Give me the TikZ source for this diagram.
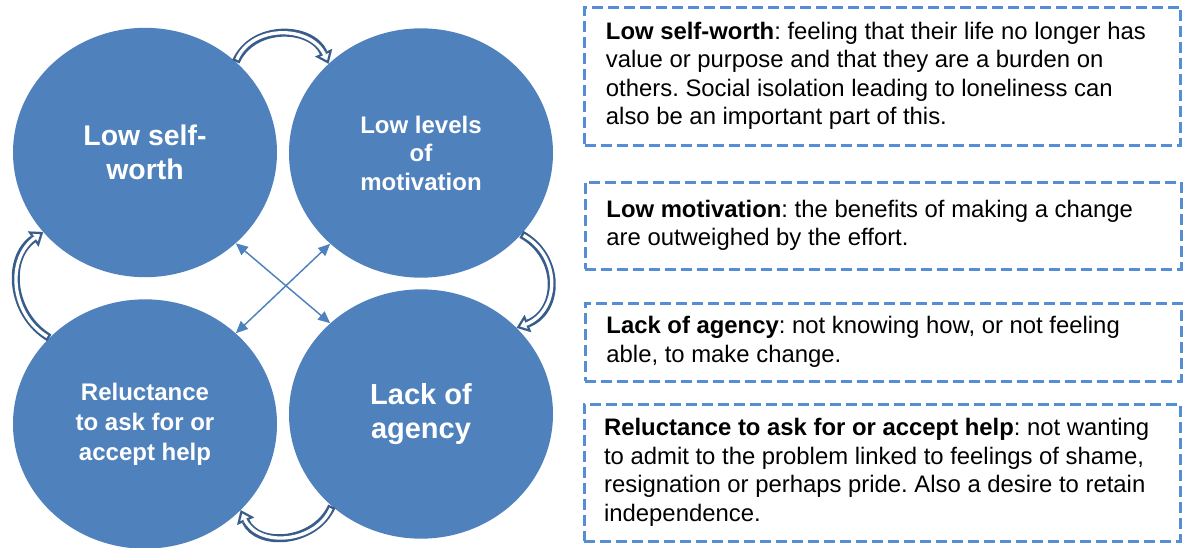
\documentclass[tikz,border=0pt]{standalone}
\usepackage{fontspec}
\setmainfont{Liberation Sans}
\usetikzlibrary{shapes.geometric,arrows.meta}
\frenchspacing

\definecolor{circleblue}{RGB}{79,129,189}
\definecolor{loopedge}{RGB}{56,93,138}
\definecolor{boxdash}{RGB}{85,142,213}

\tikzset{
	issue/.style={ellipse, fill=circleblue, text=white, inner sep=0pt, minimum width=198pt, minimum height=187pt, align=center},
	loopbody/.style={draw=loopedge, line width=6pt, -{Triangle[length=9pt,width=14pt,line width=.01pt]}},
	loopcore/.style={draw=white, line width=2.5pt, shorten >=2.85pt, shorten <=1.75pt, -{Triangle[length=4.4pt,width=6.85pt,line width=.01pt]}},
	crossarrow/.style={draw=circleblue, line width=1.1pt, {Triangle[length=9pt,width=8pt]}-{Triangle[length=9pt,width=8pt]}},
	notebox/.style={draw=boxdash, line width=2.25pt, dash pattern=on 8.25pt off 3.75pt, minimum width=447pt, inner sep=0pt},
	notetext/.style={anchor=west, align=left, inner sep=0pt, font=\fontsize{17.9}{21.4}\selectfont}
}

\begin{document}
\begin{tikzpicture}[x=0.75pt,y=0.75pt]
	\useasboundingbox (0,0) rectangle (1183,-547);
	% the four circles
	\node[issue, font=\bfseries\fontsize{21.3}{26}\selectfont] (worth) at (145,-152.5) {Low self-\\worth};
	\node[issue, font=\bfseries\fontsize{18}{21.4}\selectfont] (motiv) at (421,-153) {Low levels\\of\\motivation};
	\node[issue, font=\bfseries\fontsize{21.75}{25.5}\selectfont] (agency) at (421,-414) {Lack of\\agency};
	\node[issue, font=\bfseries\fontsize{18}{22.5}\selectfont] (reluct) at (145,-424) {Reluctance\\to ask for or\\accept help};
	% diagonals
	\draw[crossarrow] (worth.-45) -- (agency.135);
	\draw[crossarrow] (motiv.-135) -- (reluct.45);
	% outer cycle, dark body then white core
	\draw[loopbody] (worth.45) to[out=66, in=114, looseness=1.15] (motiv.136); % top
	\draw[loopcore] (worth.45) to[out=66, in=114, looseness=1.15] (motiv.136);
	\draw[loopbody] (motiv.-39) to[out=-29, in=21, looseness=1.26] (agency.42); % right
	\draw[loopcore] (motiv.-39) to[out=-29, in=21, looseness=1.26] (agency.42);
	\draw[loopbody] (agency.226) to[out=246, in=294, looseness=1.15] (reluct.318); % bottom
	\draw[loopcore] (agency.226) to[out=246, in=294, looseness=1.15] (reluct.318);
	\draw[loopbody] (reluct.138) to[out=149, in=215, looseness=1.1] (worth.218); % left
	\draw[loopcore] (reluct.138) to[out=149, in=215, looseness=1.1] (worth.218);
	% notes on the right
	\node[notebox, minimum height=103.5pt] (worthbox) at (882.5,-76) {};
	\node[notetext] (worthnote) at ([xshift=17pt]worthbox.west) {\textbf{Low self-worth}: feeling that their life no longer has\\value or purpose and that they are a burden on\\others. Social isolation leading to loneliness can\\also be an important part of this.};
	\node[notebox, minimum height=65.25pt] (motivbox) at (883,-225.5) {};
	\node[notetext] (motivnote) at ([xshift=17pt]motivbox.west) {\textbf{Low motivation}: the benefits of making a change\\are outweighed by the effort.};
	\node[notebox, minimum height=58.5pt] (agencybox) at (883,-342) {};
	\node[notetext] (agencynote) at ([xshift=17pt]agencybox.west) {\textbf{Lack of agency}: not knowing how, or not feeling\\able, to make change.};
	\node[notebox, minimum height=102.75pt] (reluctbox) at (882,-472.5) {};
	\node[notetext] (reluctnote) at ([xshift=16pt]reluctbox.west) {\textbf{Reluctance to ask for or accept help}: not wanting\\to admit to the problem linked to feelings of shame,\\resignation or perhaps pride. Also a desire to retain\\independence.};
\end{tikzpicture}
\end{document}
